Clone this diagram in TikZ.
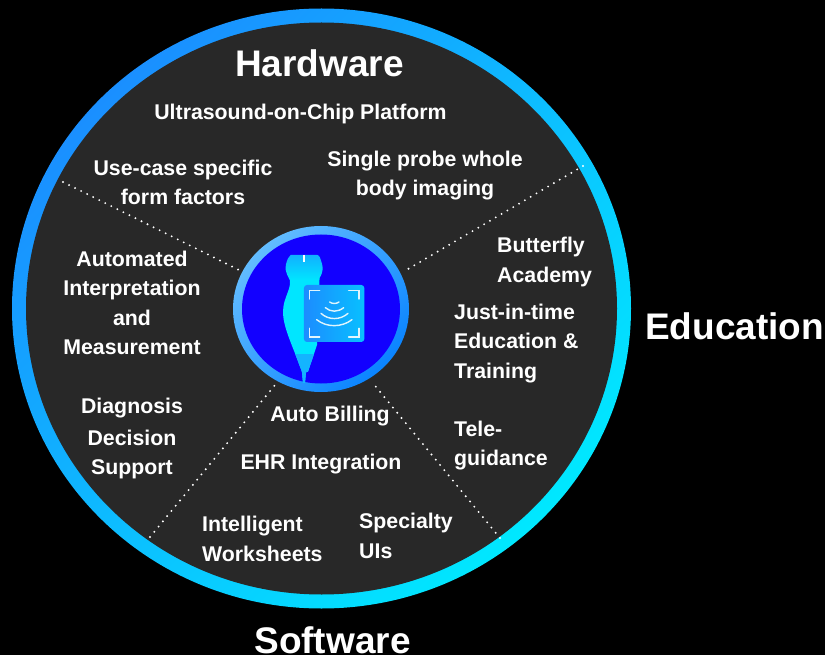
\documentclass[tikz,border=0pt]{standalone}
\usepackage{fontspec}
\setmainfont{Liberation Sans}
\definecolor{disc}{HTML}{282828}
\definecolor{ringa}{HTML}{1A8FFF}
\definecolor{ringb}{HTML}{00E8FF}
\definecolor{hubring}{HTML}{0A84FF}
\definecolor{hubringl}{HTML}{62BCFF}
\definecolor{hubfill}{HTML}{1200FF}
\definecolor{probea}{HTML}{12ACFF}
\definecolor{probeb}{HTML}{00E6FF}
\definecolor{tipc}{HTML}{14B4FF}
\definecolor{carda}{HTML}{1C8CFF}
\definecolor{cardb}{HTML}{08C0FF}
\begin{document}
\begin{tikzpicture}[x=1pt,y=-1pt,
  lbl/.style={text=white,font=\fontsize{21.3}{29.3}\bfseries\selectfont,inner sep=0pt},
  lblc/.style={lbl,align=center},
  lbll/.style={lbl,align=left},
  head/.style={text=white,font=\fontsize{37}{40}\bfseries\selectfont,inner sep=0pt},
  sep/.style={white,line width=2.1pt,line cap=round,dash pattern=on 0pt off 6.75pt},
  scrn/.style={white!88!cyan,line width=1.4pt,line cap=round}]
\useasboundingbox (0,0) rectangle (825,655);
\fill[black] (0,0) rectangle (825,655);
% outer ring and disc
\shade[left color=ringa,right color=ringb,shading angle=45] (321.5,308.5) ellipse [x radius=309.5,y radius=300];
\fill[disc] (321.5,308.5) ellipse [x radius=295.5,y radius=286];
% separators
\coordinate (s1a) at (63,182); \coordinate (s1b) at (243,272);
\coordinate (s2a) at (583,166); \coordinate (s2b) at (403,272);
\coordinate (s3a) at (500,538); \coordinate (s3b) at (372,382);
\coordinate (s4a) at (150,537); \coordinate (s4b) at (275,385);
\draw[sep] (s1a) -- (s1b);
\draw[sep] (s2a) -- (s2b);
\draw[sep] (s3a) -- (s3b);
\draw[sep] (s4a) -- (s4b);
% hub
\shade[left color=hubringl,middle color=hubring,right color=hubring,shading angle=45] (321,309) ellipse [x radius=88,y radius=83];
\fill[hubfill] (321,309) ellipse [x radius=79,y radius=74.5];
% probe and card, drawn in 3x crop units
\begin{scope}[shift={(220,215)},x=0.3333pt,y=-0.3333pt]
  \begin{scope}
  \clip
    (205,128) to[out=-60,in=180] (212,120) -- (292,120) to[out=0,in=120] (300,128)
    .. controls (312,160) and (310,170) .. (298,190)
    -- (298,300) -- (291,390) -- (264,470) -- (258,472) -- (255,503) -- (249,503) -- (246,472) -- (245,468)
    -- (225,415) .. controls (195,340) and (180,300) .. (195,255)
    .. controls (205,225) and (212,215) .. (210,195)
    .. controls (198,175) and (190,160) .. (205,128) -- cycle;
  \fill[probeb] (180,190) rectangle (320,510);
  \shade[top color=probea,bottom color=probeb] (180,115) rectangle (320,195);
  \fill[tipc] (200,418) rectangle (300,510);
  \end{scope}
  \draw[white,line width=1.2pt] (252,120) -- (252,140);
  \shade[rounded corners=3pt,left color=carda,right color=cardb] (252,210) rectangle (433,381);
  \draw[scrn]
    (268,252) -- (268,226) -- (299,226)
    (386,226) -- (417,226) -- (417,252)
    (417,340) -- (417,366) -- (386,366)
    (299,366) -- (268,366) -- (268,340);
  \draw[scrn]
    (329,261) .. controls (337,267) and (349,267) .. (357,261)
    (316,278) .. controls (332,292) and (354,292) .. (371,278)
    (303,295) .. controls (325,316) and (361,316) .. (384,295)
    (290,314) .. controls (320,338) and (365,338) .. (396,314);
\end{scope}
% headings
\node[head,anchor=base] (hw) at (319.5,76.5) {Hardware};
\node[head,anchor=base west] (edu) at (645,339) {Education};
\node[head,anchor=base] (sw) at (332.5,653) {Software};
% labels
\node[lbl,anchor=base] (uoc) at (300.5,120) {Ultrasound-on-Chip Platform};
\node[lblc,anchor=center] (ucs) at (183,182.5) {Use-case specific\\form factors};
\node[lblc,anchor=center] (spw) at (425,175.5) {Single probe whole\\body imaging};
\node[lblc,anchor=center] (aim) at (132,303) {Automated\\Interpretation\\and\\Measurement};
\node[lbl,anchor=base] (dg1) at (132,413) {Diagnosis};
\node[lbl,anchor=base] (dg2) at (132,445) {Decision};
\node[lbl,anchor=base] (dg3) at (132,474) {Support};
\node[lbl,anchor=base] (ab) at (330,421) {Auto Billing};
\node[lbl,anchor=base] (ehr) at (321,469) {EHR Integration};
\node[lbll,anchor=west] (iw) at (202,539) {Intelligent\\Worksheets};
\node[lbll,anchor=west] (su) at (359,536) {Specialty\\UIs};
\node[lbll,anchor=west] (ba) at (497,262) {Butterfly\\Academy};
\node[lbll,anchor=west] (jit) at (454,343.5) {Just-in-time\\Education \&\\Training};
\node[lbll,anchor=west] (tg) at (454,445.5) {Tele-\\guidance};
\end{tikzpicture}
\end{document}
